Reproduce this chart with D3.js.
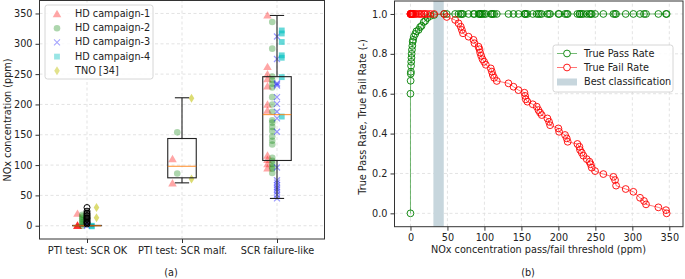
<!DOCTYPE html>
<html>
<head>
<meta charset="utf-8">
<script src="https://cdn.jsdelivr.net/npm/d3@7"></script>
<style>
  body { margin: 0; background: #fff; }
  svg text { font-family: "DejaVu Sans", sans-serif; fill: #222; }
</style>
</head>
<body>
<div id="chart"></div>
<script>
// ---- data (a) ----
const categories = ["PTI test: SCR OK", "PTI test: SCR malf.", "SCR failure-like"];
const hdCampaign1 = [[20, 1, 0, 0, 0], [110, 70], [347, 262, 250, 242, 230, 200, 190, 116, 109, 102, 95]];
const hdCampaign2 = [[18, 15, 12, 9, 6, 3, 0], [154, 86],
  [336, 292, 246, 240, 234, 228, 212, 200, 188, 174, 170, 163, 156, 147, 140, 134, 112, 107, 102, 97, 94, 87]];
const hdCampaign3 = [[5, 2, 0], [], [312, 275, 235, 233, 231, 212, 201, 188, 177, 155, 96, 75, 71, 67, 63, 60, 56, 51, 45]];
const hdCampaign4 = [[0, -1], [], [322, 317, 303, 281, 277, 245, 180]];
const tno = [[30, 13], [210, 77], []];
const boxQ1 = [0, 79, 107.6];
const boxMedian = [0, 98, 183.3];
const boxQ3 = [0.5, 143.8, 245.8];
const whiskerLow = [0, 70.7, 45];
const whiskerHigh = [0.5, 211, 346.7];
const fliersOK = [30, 24, 21, 19, 17, 15, 13, 12, 10, 8, 6, 5, 3];

// ---- data (b) ----
const thresholds = [0, 0, 0.2, 0.4, 0.6, 0.8, 1.0, 1.3, 1.6, 2.0, 2.5, 3.0, 3.5, 4.5, 6.5, 8, 11, 13, 15, 18, 20, 23, 27, 32, 45.5, 49,
  60.4, 65, 68, 69.5, 71, 78.5, 85.2, 86.6, 92, 93.3, 94.2, 95.6, 97.4, 99.6, 101.9, 108.6, 110, 111.3, 113.1, 116.7,
  132.5, 139.3, 146, 154.1, 155, 155.9, 158.1, 165.3, 170.7, 173, 175.2, 177.5, 185.2, 187.4, 188.8, 200, 201, 209,
  211.3, 212.6, 225.7, 228.4, 229.3, 231.6, 233.8, 238.3, 242, 243.7, 245.1, 249.6, 260.8, 274.4, 276.6, 278, 291,
  301.4, 310.4, 315.8, 318.5, 335.2, 345.5, 346.4];
const truePassLow = [0, 0.60, 0.665, 0.70, 0.71, 0.74, 0.76, 0.78, 0.80, 0.82, 0.84, 0.86, 0.87, 0.886, 0.90, 0.913,
  0.92, 0.934, 0.94, 0.96, 0.965, 0.98, 0.99, 0.995];
const trueFailHigh = [0.985, 0.97, 0.953, 0.936, 0.92, 0.903, 0.886, 0.87, 0.853, 0.836, 0.823, 0.806, 0.79, 0.773, 0.76,
  0.745, 0.727, 0.711, 0.694, 0.68, 0.664, 0.652, 0.635, 0.618, 0.605, 0.589, 0.572, 0.56, 0.547, 0.535, 0.518,
  0.505, 0.493, 0.476, 0.459, 0.442, 0.426, 0.409, 0.393, 0.376, 0.359, 0.348, 0.334, 0.318, 0.304, 0.289, 0.272,
  0.259, 0.246, 0.229, 0.212, 0.197, 0.183, 0.167, 0.139, 0.122, 0.108, 0.078, 0.062, 0.045, 0.030, 0.016, 0.0];
const bestBand = [31, 45];

const truePass = thresholds.map((t, i) => (i < truePassLow.length ? truePassLow[i] : 1));
const trueFail = thresholds.map((t, i) => {
  const k = i - (thresholds.length - trueFailHigh.length);
  return k < 0 ? 1 : trueFailHigh[k];
});

const width = 685, height = 279, fs = "9.7px";
const svg = d3.select("#chart").append("svg").attr("width", width).attr("height", height);

function grid(g, xs, ys, x, y) {
  const [x0, x1] = x.range(), [y0, y1] = y.range();
  xs.forEach((v) => g.append("line").attr("x1", x(v)).attr("x2", x(v)).attr("y1", y0).attr("y2", y1));
  ys.forEach((v) => g.append("line").attr("x1", x0).attr("x2", x1).attr("y1", y(v)).attr("y2", y(v)));
  g.selectAll("line").attr("stroke", "#dcdcdc").attr("stroke-width", 0.8).attr("stroke-dasharray", "3,2.5");
}

function styleAxis(g) {
  g.select(".domain").remove();
  g.selectAll(".tick line").attr("stroke", "#333");
  g.selectAll("text").style("font-size", fs).attr("fill", "#222");
}

// ================= (a) =================
const xA = d3.scaleLinear().domain([0.5, 3.5]).range([39.5, 324.5]);
const yA = d3.scaleLinear().domain([-21.9, 371.4]).range([239, 0.5]);
const yTicksA = d3.range(0, 351, 50);

grid(svg.append("g"), [1, 2, 3], yTicksA, xA, yA);

const offsets = [-0.1, -0.05, 0, 0.05, 0.1];
const triangle = d3.symbol().type(d3.symbolTriangle).size(32);
const square = d3.symbol().type(d3.symbolSquare).size(34);
const diamond = "M0,-4.5L2.8,0L0,4.5L-2.8,0Z";

const ptsA = svg.append("g");
function drawSeries(data, k, draw) {
  data.forEach((vals, ci) => vals.forEach((v) => draw(xA(ci + 1 + offsets[k]), yA(v))));
}
drawSeries(hdCampaign1, 0, (x, y) =>
  ptsA.append("path").attr("d", triangle).attr("transform", `translate(${x},${y + 0.8})`)
    .attr("fill", "red").attr("fill-opacity", 0.35));
drawSeries(hdCampaign2, 1, (x, y) =>
  ptsA.append("circle").attr("cx", x).attr("cy", y).attr("r", 3.3).attr("fill", "green").attr("fill-opacity", 0.32));
drawSeries(hdCampaign3, 2, (x, y) =>
  ptsA.append("path").attr("d", `M${x - 3},${y - 3}L${x + 3},${y + 3}M${x - 3},${y + 3}L${x + 3},${y - 3}`)
    .attr("stroke", "blue").attr("stroke-opacity", 0.4).attr("stroke-width", 1.2).attr("fill", "none"));
drawSeries(hdCampaign4, 3, (x, y) =>
  ptsA.append("path").attr("d", square).attr("transform", `translate(${x},${y})`)
    .attr("fill", "#00bfbf").attr("fill-opacity", 0.6));
drawSeries(tno, 4, (x, y) =>
  ptsA.append("path").attr("d", diamond).attr("transform", `translate(${x},${y})`)
    .attr("fill", "#bfbf00").attr("fill-opacity", 0.55));

// box plots
const boxG = svg.append("g").attr("fill", "none");
categories.forEach((c, i) => {
  const cx = i + 1, hw = 0.15, cw = 0.075;
  boxG.append("rect").attr("x", xA(cx - hw)).attr("y", yA(boxQ3[i]))
    .attr("width", xA(cx + hw) - xA(cx - hw)).attr("height", yA(boxQ1[i]) - yA(boxQ3[i]))
    .attr("stroke", "#222").attr("stroke-width", 1.1);
  [[boxQ3[i], whiskerHigh[i]], [boxQ1[i], whiskerLow[i]]].forEach(([a, b]) => {
    boxG.append("line").attr("x1", xA(cx)).attr("x2", xA(cx)).attr("y1", yA(a)).attr("y2", yA(b))
      .attr("stroke", "#222").attr("stroke-width", 1.1);
    boxG.append("line").attr("x1", xA(cx - cw)).attr("x2", xA(cx + cw)).attr("y1", yA(b)).attr("y2", yA(b))
      .attr("stroke", "#222").attr("stroke-width", 1.1);
  });
  boxG.append("line").attr("x1", xA(cx - hw)).attr("x2", xA(cx + hw))
    .attr("y1", yA(boxMedian[i])).attr("y2", yA(boxMedian[i]))
    .attr("stroke", "#ff7f0e").attr("stroke-opacity", 0.75).attr("stroke-width", 1.2);
});
fliersOK.forEach((v) =>
  boxG.append("circle").attr("cx", xA(1)).attr("cy", yA(v)).attr("r", 3)
    .attr("stroke", "#000").attr("stroke-width", 1));

// frame + axes
svg.append("rect").attr("x", 39.5).attr("y", 0.5).attr("width", 285).attr("height", 238.5)
  .attr("fill", "none").attr("stroke", "#333").attr("stroke-width", 1);
svg.append("g").attr("transform", "translate(39.5,0)")
  .call(d3.axisLeft(yA).tickValues(yTicksA).tickSize(4).tickPadding(3)).call(styleAxis);
svg.append("g").attr("transform", "translate(0,239)")
  .call(d3.axisBottom(xA).tickValues([1, 2, 3]).tickFormat((d) => categories[d - 1]).tickSize(4).tickPadding(4))
  .call(styleAxis);
svg.append("text").attr("transform", "translate(8,120) rotate(-90)").attr("text-anchor", "middle")
  .attr("dominant-baseline", "middle").style("font-size", fs).text("NOx concentration (ppm)");
svg.append("text").attr("x", 171).attr("y", 273).attr("text-anchor", "middle")
  .attr("dominant-baseline", "middle").style("font-size", fs).text("(a)");

// legend (a)
const legA = svg.append("g");
legA.append("rect").attr("x", 45).attr("y", 5).attr("width", 108).attr("height", 74).attr("rx", 2.5)
  .attr("fill", "#fff").attr("fill-opacity", 0.85).attr("stroke", "#ccc").attr("stroke-width", 0.8);
const legNames = ["HD campaign-1", "HD campaign-2", "HD campaign-3", "HD campaign-4", "TNO [34]"];
legNames.forEach((n, i) => {
  const y = 14 + i * 14.2, x = 57;
  if (i === 0) legA.append("path").attr("d", triangle).attr("transform", `translate(${x},${y + 0.8})`)
    .attr("fill", "red").attr("fill-opacity", 0.35);
  if (i === 1) legA.append("circle").attr("cx", x).attr("cy", y).attr("r", 3.3).attr("fill", "green").attr("fill-opacity", 0.32);
  if (i === 2) legA.append("path").attr("d", `M${x - 3},${y - 3}L${x + 3},${y + 3}M${x - 3},${y + 3}L${x + 3},${y - 3}`)
    .attr("stroke", "blue").attr("stroke-opacity", 0.35).attr("stroke-width", 1.1);
  if (i === 3) legA.append("path").attr("d", square).attr("transform", `translate(${x},${y})`)
    .attr("fill", "#00bfbf").attr("fill-opacity", 0.4);
  if (i === 4) legA.append("path").attr("d", diamond).attr("transform", `translate(${x},${y})`)
    .attr("fill", "#bfbf00").attr("fill-opacity", 0.45);
  legA.append("text").attr("x", 75).attr("y", y).attr("dominant-baseline", "middle").style("font-size", fs).text(n);
});

// ================= (b) =================
const xB = d3.scaleLinear().domain([-21.6, 368.5]).range([394.5, 683]);
const yB = d3.scaleLinear().domain([-0.067, 1.065]).range([226.7, 1]);
const xTicksB = d3.range(0, 351, 50), yTicksB = d3.range(0, 1.01, 0.2);

grid(svg.append("g"), xTicksB, yTicksB, xB, yB);

svg.append("rect").attr("x", xB(bestBand[0])).attr("y", 1).attr("width", xB(bestBand[1]) - xB(bestBand[0]))
  .attr("height", 225.7).attr("fill", "#c7d6dd");

const line = (ys) => d3.line().x((d, i) => xB(thresholds[i])).y((d, i) => yB(ys[i]))(thresholds);
[[truePass, "green"], [trueFail, "red"]].forEach(([ys, col]) => {
  svg.append("path").attr("d", line(ys)).attr("fill", "none").attr("stroke", col)
    .attr("stroke-opacity", 0.6).attr("stroke-width", 0.9);
  svg.append("g").selectAll("circle").data(thresholds).join("circle")
    .attr("cx", (d) => xB(d)).attr("cy", (d, i) => yB(ys[i])).attr("r", 3.4)
    .attr("fill", "none").attr("stroke", col).attr("stroke-width", 0.9);
});

svg.append("rect").attr("x", 394.5).attr("y", 1).attr("width", 288.5).attr("height", 225.7)
  .attr("fill", "none").attr("stroke", "#333").attr("stroke-width", 1);
svg.append("g").attr("transform", "translate(394.5,0)")
  .call(d3.axisLeft(yB).tickValues(yTicksB).tickFormat(d3.format(".1f")).tickSize(4).tickPadding(3)).call(styleAxis);
svg.append("g").attr("transform", "translate(0,226.7)")
  .call(d3.axisBottom(xB).tickValues(xTicksB).tickSize(4).tickPadding(3)).call(styleAxis);
svg.append("text").attr("transform", "translate(363,117) rotate(-90)").attr("text-anchor", "middle")
  .attr("dominant-baseline", "middle").style("font-size", fs).text("True Pass Rate, True Fail Rate (-)");
svg.append("text").attr("x", 538.5).attr("y", 250).attr("text-anchor", "middle")
  .attr("dominant-baseline", "middle").style("font-size", fs).text("NOx concentration pass/fail threshold (ppm)");
svg.append("text").attr("x", 528).attr("y", 273).attr("text-anchor", "middle")
  .attr("dominant-baseline", "middle").style("font-size", fs).text("(b)");

// legend (b)
const legB = svg.append("g");
legB.append("rect").attr("x", 553).attr("y", 45).attr("width", 120).attr("height", 47).attr("rx", 2.5)
  .attr("fill", "#fff").attr("fill-opacity", 0.85).attr("stroke", "#ccc").attr("stroke-width", 0.8);
[["True Pass Rate", "green"], ["True Fail Rate", "red"]].forEach(([n, col], i) => {
  const y = 53.5 + i * 14;
  legB.append("line").attr("x1", 557).attr("x2", 577).attr("y1", y).attr("y2", y)
    .attr("stroke", col).attr("stroke-opacity", 0.6).attr("stroke-width", 0.9);
  legB.append("circle").attr("cx", 567).attr("cy", y).attr("r", 3.4).attr("fill", "#fff")
    .attr("stroke", col).attr("stroke-width", 0.9);
  legB.append("text").attr("x", 584).attr("y", y).attr("dominant-baseline", "middle").style("font-size", fs).text(n);
});
legB.append("rect").attr("x", 557).attr("y", 78.5).attr("width", 20).attr("height", 7).attr("fill", "#c7d6dd");
legB.append("text").attr("x", 584).attr("y", 82).attr("dominant-baseline", "middle").style("font-size", fs)
  .text("Best classification");
</script>
</body>
</html>
